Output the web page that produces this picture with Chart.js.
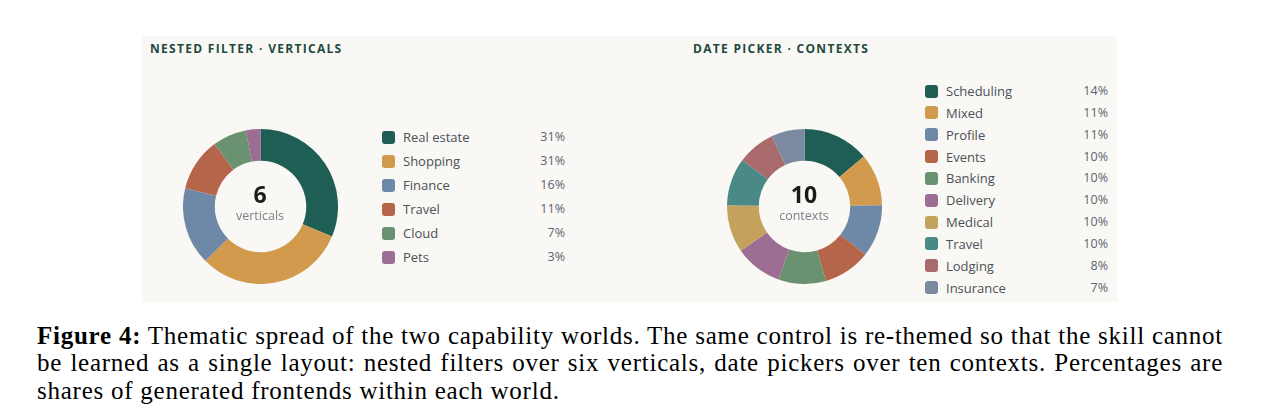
<!DOCTYPE html>
<html>
<head>
<meta charset="utf-8">
<script src="https://cdn.jsdelivr.net/npm/chart.js@4.4.1/dist/chart.umd.min.js"></script>
<style>
    html, body { margin: 0; padding: 0; background: #fff; }
    body { width: 1261px; height: 405px; position: relative; overflow: hidden; font-family: "Open Sans", "Noto Sans", sans-serif; }
    .panel { position: absolute; left: 142px; top: 36px; width: 975px; height: 266px; background: #f9f8f4; }
    .title { position: absolute; font-size: 12px; font-weight: 700; letter-spacing: 1.3px; color: #1d4a42; line-height: 14px; }
    .donut { position: absolute; width: 155px; height: 155px; }
    .center { position: absolute; width: 120px; text-align: center; }
    .center .big { font-size: 23px; font-weight: 700; color: #1b1b1b; line-height: 24px; }
    .center .small { font-size: 12.5px; color: #7a7f88; line-height: 16px; margin-top: 2px; }
    .swatch { position: absolute; width: 13px; height: 13px; border-radius: 3px; }
    .lab { position: absolute; font-size: 13px; color: #4b5058; line-height: 16px; white-space: nowrap; }
    .pct { position: absolute; font-size: 12.5px; color: #5d6370; line-height: 16px; text-align: right; width: 60px; }
    .caption { position: absolute; left: 37px; width: 1186px; font-family: "Liberation Serif", "Times New Roman", serif; font-size: 25px; letter-spacing: 0.75px; color: #000; }
    .caption div { height: 27.3px; line-height: 27.3px; text-align: justify; text-align-last: justify; white-space: nowrap; }
    .caption div.last { text-align-last: left; }
</style>
</head>
<body>
<div class="panel"></div>
<div class="title" style="left:150px; top:42px;">NESTED FILTER · VERTICALS</div>
<div class="title" style="left:693px; top:42px;">DATE PICKER · CONTEXTS</div>

<canvas id="verticals" class="donut" style="left:183px; top:129px;"></canvas>
<canvas id="contexts" class="donut" style="left:727px; top:129px;"></canvas>

<div class="center" style="left:200px; top:182px;"><div class="big">6</div><div class="small">verticals</div></div>
<div class="center" style="left:744px; top:182px;"><div class="big">10</div><div class="small">contexts</div></div>

<div id="legend-verticals"></div>
<div id="legend-contexts"></div>

<div class="caption" style="top:322px;">
    <div><b>Figure 4:</b> Thematic spread of the two capability worlds. The same control is re-themed so that the skill cannot</div>
    <div>be learned as a single layout: nested filters over six verticals, date pickers over ten contexts. Percentages are</div>
    <div class="last">shares of generated frontends within each world.</div>
</div>

<script>
    // Nested filter verticals (% of frontends)
    const verticalLabels = ["Real estate", "Shopping", "Finance", "Travel", "Cloud", "Pets"];
    const verticalShares = [31, 31, 16, 11, 7, 3];
    const verticalColors = ["#1e5e55", "#d19a4d", "#6e88a8", "#b5654a", "#6b9270", "#9c6e94"];

    // Date picker contexts (% of frontends)
    const contextLabels = ["Scheduling", "Mixed", "Profile", "Events", "Banking", "Delivery", "Medical", "Travel", "Lodging", "Insurance"];
    const contextShares = [14, 11, 11, 10, 10, 10, 10, 10, 8, 7];
    const contextColors = ["#1e5e55", "#d19a4d", "#6e88a8", "#b5654a", "#6b9270", "#9c6e94", "#c4a25b", "#4a8a86", "#a86a6a", "#7b8aa0"];

    function makeDonut(id, labels, values, colors) {
        new Chart(document.getElementById(id), {
            type: "doughnut",
            data: {
                labels: labels,
                datasets: [{
                    data: values,
                    backgroundColor: colors,
                    borderWidth: 0
                }]
            },
            options: {
                responsive: false,
                animation: false,
                cutout: "59%",
                events: [],
                plugins: {
                    legend: { display: false },
                    tooltip: { enabled: false }
                }
            }
        });
    }

    // html legend: swatch, label, right-aligned share
    function makeLegend(id, labels, values, colors, x, y0, step, right) {
        const box = document.getElementById(id);
        labels.forEach((label, i) => {
            const top = y0 + i * step - 8;
            const sw = document.createElement('div');
            sw.className = 'swatch';
            sw.style.left = x + 'px';
            sw.style.top = (top + 1.5) + 'px';
            sw.style.background = colors[i];
            box.appendChild(sw);

            const lab = document.createElement('div');
            lab.className = 'lab';
            lab.style.left = (x + 21) + 'px';
            lab.style.top = top + 'px';
            lab.textContent = label;
            box.appendChild(lab);

            const pct = document.createElement('div');
            pct.className = 'pct';
            pct.style.left = (right - 60) + 'px';
            pct.style.top = top + 'px';
            pct.textContent = values[i] + '%';
            box.appendChild(pct);
        });
    }

    makeDonut("verticals", verticalLabels, verticalShares, verticalColors);
    makeDonut("contexts", contextLabels, contextShares, contextColors);

    makeLegend('legend-verticals', verticalLabels, verticalShares, verticalColors, 382, 137, 24, 565);
    makeLegend('legend-contexts', contextLabels, contextShares, contextColors, 925, 91, 21.85, 1108);
</script>
</body>
</html>
